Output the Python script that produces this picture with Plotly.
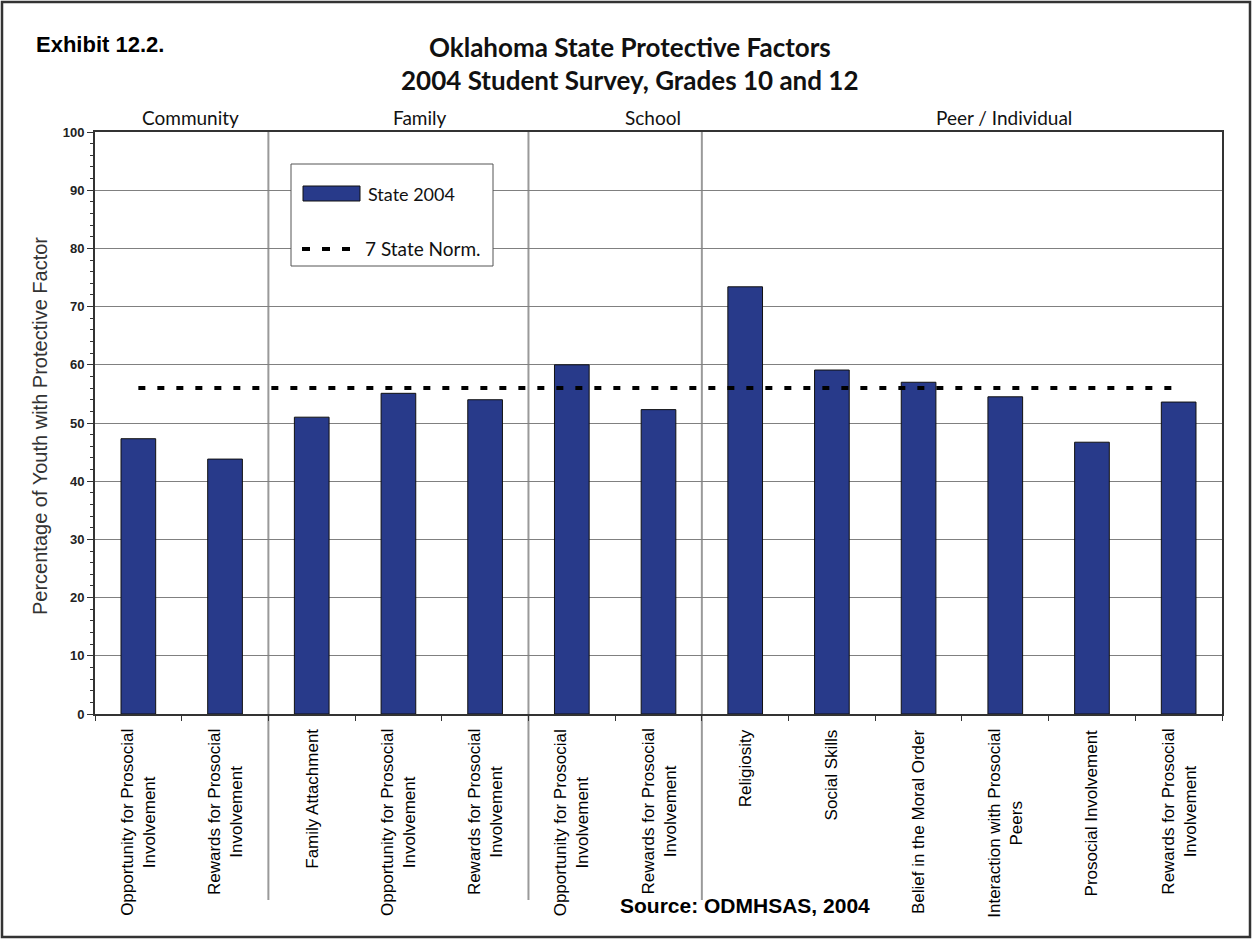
import plotly.graph_objects as go

# ---------------- data ----------------
categories = [
    "Opportunity for Prosocial<br>Involvement",
    "Rewards for Prosocial<br>Involvement",
    "Family Attachment",
    "Opportunity for Prosocial<br>Involvement",
    "Rewards for Prosocial<br>Involvement",
    "Opportunity for Prosocial<br>Involvement",
    "Rewards for Prosocial<br>Involvement",
    "Religiosity",
    "Social Skills",
    "Belief in the Moral Order",
    "Interaction with Prosocial<br>Peers",
    "Prosocial Involvement",
    "Rewards for Prosocial<br>Involvement",
]
state_2004 = [47.3, 43.8, 51.0, 55.1, 54.0, 60.0, 52.3, 73.4, 59.1, 57.0, 54.5, 46.7, 53.6]
state_norm = [56, 56, 56, 56, 56, 56, 56, 56, 56, 56, 56, 56, 56]
domains = ["Community", "Family", "School", "Peer / Individual"]
domain_boundaries = [1.5, 4.5, 6.5]
y_ticks = [0, 10, 20, 30, 40, 50, 60, 70, 80, 90, 100]

# ---------------- layout helpers (pixel -> paper) ----------------
W, H = 1252, 940
L, R, T, B = 95, 1222, 132, 714


def fx(px):
    return (px - L) / (R - L)


def fy(py):
    return (B - py) / (B - T)


BAR = "#283A8A"
HUM = "Lato"
ARIAL = "Liberation Sans, Arial, sans-serif"

xs = list(range(len(categories)))

fig = go.Figure()
fig.add_trace(go.Bar(
    x=xs, y=state_2004, width=0.4, name="State 2004",
    marker=dict(color=BAR, line=dict(color="#111", width=1)),
))
fig.add_trace(go.Scatter(
    x=xs, y=state_norm, mode="lines", name="7 State Norm.",
    line=dict(color="black", width=4, dash="7px,12px"),
))

ann = []
# x category labels
for i, c in enumerate(categories):
    ann.append(dict(
        x=i, xref="x", y=fy(727), yref="paper", text=c, showarrow=False,
        textangle=-90, xanchor="center", yanchor="top", align="center",
        font=dict(family=ARIAL, size=17, color="#000"),
    ))
# domain labels
domain_px = [190, 420, 653, 1004]
for d, px in zip(domains, domain_px):
    ann.append(dict(
        x=fx(px), xref="paper", y=fy(117), yref="paper", text=d,
        showarrow=False, xanchor="center", yanchor="middle",
        font=dict(family=HUM, size=19, color="#111"),
    ))
# titles
ann.append(dict(x=fx(630), xref="paper", y=fy(47), yref="paper",
                text="<b>Oklahoma State Protective Factors</b>", showarrow=False,
                xanchor="center", yanchor="middle",
                font=dict(family=HUM, size=26, color="#111")))
ann.append(dict(x=fx(630), xref="paper", y=fy(80), yref="paper",
                text="<b>2004 Student Survey, Grades 10 and 12</b>", showarrow=False,
                xanchor="center", yanchor="middle",
                font=dict(family=HUM, size=26, color="#111")))
ann.append(dict(x=fx(34), xref="paper", y=fy(44), yref="paper",
                text="<b>Exhibit 12.2.</b>", showarrow=False,
                xanchor="left", yanchor="middle",
                font=dict(family=ARIAL, size=22, color="black")))
ann.append(dict(x=fx(745), xref="paper", y=fy(905), yref="paper",
                text="<b>Source: ODMHSAS, 2004</b>", showarrow=False,
                xanchor="center", yanchor="middle",
                font=dict(family=ARIAL, size=21, color="black")))
# y axis title
ann.append(dict(x=fx(40), xref="paper", y=fy(426), yref="paper",
                text="Percentage of Youth with Protective Factor", showarrow=False,
                textangle=-90, xanchor="center", yanchor="middle",
                font=dict(family=ARIAL, size=20, color="#333")))
# legend texts
ann.append(dict(x=fx(366), xref="paper", y=fy(194), yref="paper",
                text="State 2004", showarrow=False, xanchor="left", yanchor="middle",
                font=dict(family=HUM, size=18, color="#111")))
ann.append(dict(x=fx(363), xref="paper", y=fy(249), yref="paper",
                text="7 State Norm.", showarrow=False, xanchor="left", yanchor="middle",
                font=dict(family=HUM, size=19, color="#111")))

shapes = []
for b in domain_boundaries:
    shapes.append(dict(type="line", xref="x", yref="paper", x0=b, x1=b,
                       y0=fy(900), y1=1, line=dict(color="#9a9a9a", width=2),
                       layer="below"))
# legend box
shapes.append(dict(type="rect", xref="paper", yref="paper",
                   x0=fx(291), x1=fx(493), y0=fy(266), y1=fy(164),
                   line=dict(color="#555", width=1), fillcolor="white", layer="above"))
shapes.append(dict(type="rect", xref="paper", yref="paper",
                   x0=fx(303), x1=fx(360), y0=fy(201), y1=fy(186),
                   line=dict(color="#111", width=1), fillcolor=BAR, layer="above"))
shapes.append(dict(type="line", xref="paper", yref="paper",
                   x0=fx(302), x1=fx(350), y0=fy(249), y1=fy(249),
                   line=dict(color="black", width=4, dash="8px,12px"), layer="above"))
# outer frame
shapes.append(dict(type="rect", xref="paper", yref="paper",
                   x0=fx(2), x1=fx(1250), y0=fy(937), y1=fy(2),
                   line=dict(color="#333", width=2.5), layer="above"))

fig.update_layout(
    width=W, height=H,
    margin=dict(l=L, r=W - R, t=T, b=H - B),
    paper_bgcolor="white", plot_bgcolor="white",
    showlegend=False,
    annotations=ann, shapes=shapes,
    bargap=0.6,
)
fig.update_xaxes(
    range=[-0.5, len(categories) - 0.5],
    tickvals=[i - 0.5 for i in range(len(categories) + 1)],
    showticklabels=False, ticks="outside", ticklen=5, tickcolor="#333",
    showgrid=False, zeroline=False,
    showline=True, linecolor="#333", linewidth=2, mirror=True,
)
fig.update_yaxes(
    range=[0, 100], tickvals=y_ticks,
    ticks="outside", ticklen=6, tickcolor="#333",
    tickfont=dict(family=ARIAL, size=13, color="#222", weight="bold"),
    showgrid=True, gridcolor="#808080", gridwidth=1, zeroline=False,
    showline=True, linecolor="#333", linewidth=2, mirror=True,
    minor=dict(dtick=2, ticks="outside", ticklen=3, tickcolor="#333", showgrid=False),
)

fig.write_html("out.html")
